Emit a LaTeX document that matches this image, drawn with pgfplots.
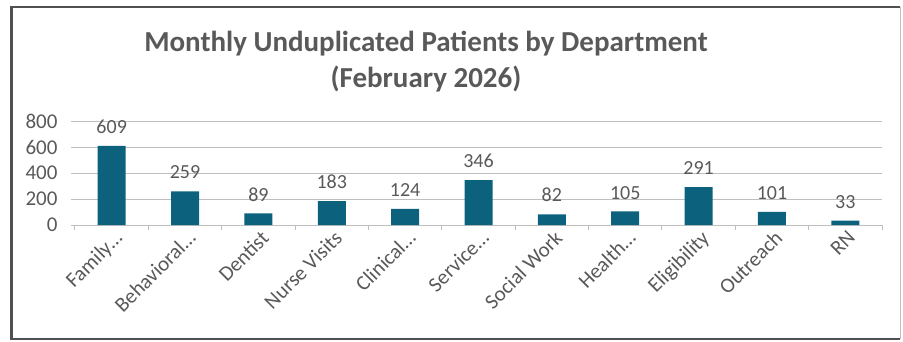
\documentclass[border=0pt]{standalone}
\usepackage{pgfplots}
\pgfplotsset{compat=1.18}
\usepackage{fontspec}
\setmainfont{Carlito}
\definecolor{barc}{RGB}{12,98,124}
\definecolor{txt}{RGB}{89,89,89}
\definecolor{gridc}{RGB}{191,191,191}
\definecolor{frm}{RGB}{80,80,80}
\begin{document}
\begin{tikzpicture}[x=1pt,y=1pt]
\useasboundingbox (0,0) rectangle (903,341);
\draw[frm, line width=2.5pt] (900,334) -- (11.5,334) -- (11.5,2) -- (900,2);
\draw[gridc, line width=1pt] (900,334) -- (900,2);
\node[font=\bfseries\fontsize{29}{36}\selectfont, text=txt, align=center] at (426,279) {Monthly Unduplicated Patients by Department\\(February 2026)};
\begin{axis}[
  at={(75pt,116pt)}, anchor=south west,
  scale only axis, width=807pt, height=104pt,
  xmin=-0.5, xmax=10.5, ymin=0, ymax=800,
  ytick={0,200,400,600,800},
  xtick={0,...,10},
  xticklabels={Family\ldots,Behavioral\ldots,Dentist,Nurse Visits,Clinical\ldots,Service\ldots,Social Work,Health\ldots,Eligibility,Outreach,RN},
  minor xtick={-0.5,0.5,...,10.5},
  major x tick style={draw=none},
  minor tick length=5pt,
  major tick length=4pt,
  tick align=outside,
  ymajorgrids, grid style={gridc, line width=1pt},
  axis line style={gridc, line width=1pt},
  axis x line*=bottom, axis y line*=left,
  y axis line style={draw=none},
  tick style={gridc, line width=1pt},
  every tick label/.append style={font=\fontsize{21}{24}\selectfont, text=txt},
  /pgf/number format/assume math mode=true,
  xticklabel style={rotate=45, anchor=north east, inner sep=1pt, xshift=2pt},
  yticklabel style={xshift=-10pt},
  ybar, bar width=28pt,
  nodes near coords,
  every node near coord/.append style={font=\fontsize{20}{24}\selectfont, text=txt, anchor=south, inner sep=0pt, yshift=12pt},
  clip=false,
]
\addplot[fill=barc, draw=none] coordinates {
(0,609) (1,259) (2,89) (3,183) (4,124) (5,346) (6,82) (7,105) (8,291) (9,101) (10,33)};
\end{axis}
\end{tikzpicture}
\end{document}
